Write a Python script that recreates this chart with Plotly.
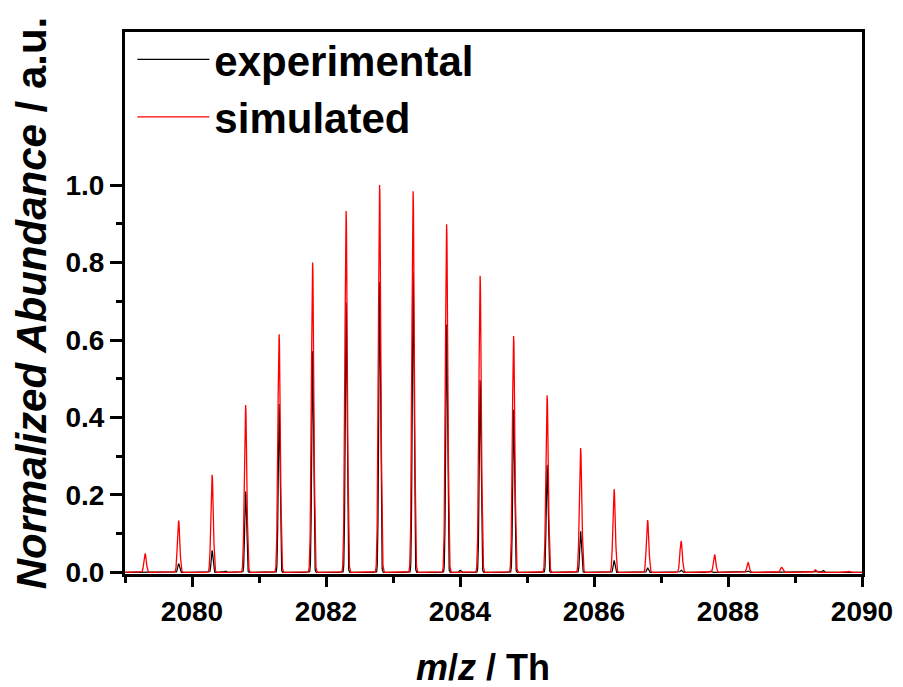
import numpy as np
import plotly.graph_objects as go

# Peak lists (m/z in Th, normalized abundance)
sim_mz = [2079.30, 2079.80, 2080.30, 2080.80, 2081.30, 2081.80, 2082.30, 2082.80,
          2083.30, 2083.80, 2084.30, 2084.80, 2085.30, 2085.80, 2086.30, 2086.80,
          2087.30, 2087.80, 2088.30, 2088.80, 2089.30, 2089.80]
sim_int = [0.049, 0.134, 0.252, 0.432, 0.615, 0.800, 0.933, 1.000,
           0.984, 0.899, 0.766, 0.610, 0.457, 0.321, 0.215, 0.135,
           0.081, 0.046, 0.025, 0.013, 0.007, 0.003]

exp_mz = [2079.80, 2080.30, 2080.50, 2080.80, 2081.30, 2081.80, 2082.30, 2082.80,
          2083.30, 2083.80, 2084.00, 2084.30, 2084.80, 2085.30, 2085.80, 2086.30,
          2086.80, 2087.30, 2087.74, 2088.30, 2089.42]
exp_int = [0.023, 0.057, 0.004, 0.209, 0.435, 0.571, 0.697, 0.749,
           0.775, 0.640, 0.006, 0.496, 0.420, 0.278, 0.106, 0.031,
           0.012, 0.006, 0.004, 0.004, 0.005]

sim_sigma = 0.018   # profile peak width (Th)
exp_sigma = 0.013

x_range = [2079.0, 2090.0]
y_range = [-0.004, 1.395]
x_major = [2080, 2082, 2084, 2086, 2088, 2090]
x_minor = [2079, 2081, 2083, 2085, 2087, 2089]
y_major = [0.0, 0.2, 0.4, 0.6, 0.8, 1.0]
y_minor = [0.1, 0.3, 0.5, 0.7, 0.9]

grid = np.arange(x_range[0], x_range[1] + 1e-9, 0.002)


def profile(centres, heights, sigma):
    y = np.zeros_like(grid)
    for c, h in zip(centres, heights):
        y += h * np.exp(-0.5 * ((grid - c) / sigma) ** 2)
    return y


FONT = "Arial, 'Liberation Sans', Helvetica, sans-serif"

fig = go.Figure()
fig.add_trace(go.Scatter(x=grid, y=profile(exp_mz, exp_int, exp_sigma), mode="lines",
                         name="experimental", line=dict(color="black", width=1.2)))
fig.add_trace(go.Scatter(x=grid, y=profile(sim_mz, sim_int, sim_sigma), mode="lines",
                         name="simulated", line=dict(color="#ff0000", width=1.3)))

axis_common = dict(showline=True, linewidth=3, linecolor="black", mirror=True,
                   showgrid=False, zeroline=False, ticks="outside", tickwidth=3,
                   tickcolor="black",
                   tickfont=dict(family=FONT, size=28, color="black", weight="bold"))

fig.update_xaxes(range=x_range, tickmode="array", tickvals=x_major,
                 ticktext=[str(v) for v in x_major], ticklen=10,
                 minor=dict(tickmode="array", tickvals=x_minor, ticklen=6, tickwidth=3,
                            ticks="outside", tickcolor="black"),
                 **axis_common)
fig.update_yaxes(range=y_range, tickmode="array", tickvals=y_major,
                 ticktext=[f"{v:.1f}" for v in y_major], ticklen=12,
                 minor=dict(tickmode="array", tickvals=y_minor, ticklen=6, tickwidth=3,
                            ticks="outside", tickcolor="black"),
                 title=dict(text="<b><i>Normalized Abundance</i> / a.u.</b>",
                            font=dict(family=FONT, size=42, color="black"), standoff=6),
                 **axis_common)

# x-axis title (placed as an annotation so it can sit slightly left of centre)
fig.add_annotation(text="<b><i>m</i>/<i>z</i> / Th</b>", xref="paper", yref="paper",
                   x=0.486, y=-0.172, xanchor="center", yanchor="middle",
                   showarrow=False, font=dict(family=FONT, size=36, color="black"))

fig.update_layout(
    width=903, height=687,
    margin=dict(l=125, r=41, t=32, b=113, autoexpand=False),
    paper_bgcolor="white", plot_bgcolor="white",
    showlegend=True,
    legend=dict(x=0.01, y=1.012, xanchor="left", yanchor="top",
                bgcolor="rgba(0,0,0,0)", borderwidth=0,
                font=dict(family=FONT, size=42, color="black", weight="bold"),
                tracegroupgap=0, itemwidth=72),
)

fig.write_html("out.html")
